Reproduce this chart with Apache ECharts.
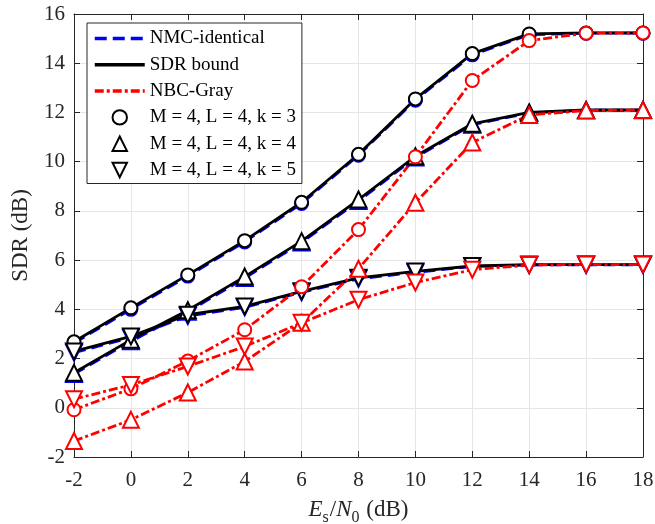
<!DOCTYPE html>
<html>
<head>
<meta charset="utf-8">
<script src="https://cdn.jsdelivr.net/npm/echarts@6/dist/echarts.min.js"></script>
<style>
  html, body { margin: 0; padding: 0; background: #fff; }
  #chart { width: 655px; height: 524px; }
</style>
</head>
<body>
<div id="chart"></div>
<script>
// Es/N0 (dB)
const snr = [-2, 0, 2, 4, 6, 8, 10, 12, 14, 16, 18]
const xTicks = [-2, 0, 2, 4, 6, 8, 10, 12, 14, 16, 18]
const yTicks = [-2, 0, 2, 4, 6, 8, 10, 12, 14, 16]

// k = 3
const nmcK3 = [2.63, 4.0, 5.35, 6.74, 8.3, 10.26, 12.5, 14.34, 15.16, 15.22, 15.22]
const boundK3 = [2.68, 4.06, 5.4, 6.79, 8.35, 10.3, 12.55, 14.39, 15.19, 15.23, 15.23]
const grayK3 = [-0.08, 0.77, 1.9, 3.17, 4.92, 7.24, 10.2, 13.3, 14.92, 15.22, 15.23]
// k = 4
const nmcK4 = [1.37, 2.7, 3.9, 5.27, 6.72, 8.4, 10.17, 11.5, 11.98, 12.09, 12.09]
const boundK4 = [1.42, 2.76, 3.96, 5.33, 6.77, 8.46, 10.22, 11.54, 12.0, 12.1, 12.1]
const grayK4 = [-1.35, -0.49, 0.62, 1.88, 3.45, 5.65, 8.33, 10.78, 11.9, 12.08, 12.1]
// k = 5
const nmcK5 = [2.24, 2.85, 3.73, 4.08, 4.69, 5.24, 5.5, 5.74, 5.8, 5.81, 5.81]
const boundK5 = [2.29, 2.9, 3.78, 4.12, 4.73, 5.28, 5.54, 5.76, 5.82, 5.82, 5.82]
const grayK5 = [0.35, 0.93, 1.68, 2.49, 3.45, 4.39, 5.09, 5.61, 5.8, 5.82, 5.82]

const legendNames = ['NMC-identical', 'SDR bound', 'NBC-Gray',
  'M = 4, L = 4, k = 3', 'M = 4, L = 4, k = 4', 'M = 4, L = 4, k = 5']

const FONT = 'Liberation Serif'
const styles = {
  nmc: { color: '#0000ff', type: [12, 6] },
  bound: { color: '#000000', type: 'solid' },
  gray: { color: '#ff0000', type: [9, 3, 3, 3] },
}
const marks = {
  k3: { symbol: 'emptyCircle', symbolSize: 13, symbolRotate: 0 },
  k4: { symbol: 'emptyTriangle', symbolSize: 16, symbolRotate: 0 },
  k5: { symbol: 'emptyTriangle', symbolSize: 16, symbolRotate: 180 },
}

function pairs(ys) {
  return snr.map((x, i) => [x, ys[i]])
}

function curve(ys, st, mk) {
  return {
    type: 'line',
    data: pairs(ys),
    symbol: mk.symbol,
    symbolSize: mk.symbolSize,
    symbolRotate: mk.symbolRotate,
    showAllSymbol: true,
    lineStyle: { color: st.color, width: 2.8, type: st.type },
    itemStyle: { color: st.color, borderColor: st.color, borderWidth: 2.8 },
    emphasis: { disabled: true },
    silent: true,
  }
}

const series = [
  curve(nmcK3, styles.nmc, marks.k3),
  curve(nmcK4, styles.nmc, marks.k4),
  curve(nmcK5, styles.nmc, marks.k5),
  curve(boundK3, styles.bound, marks.k3),
  curve(boundK4, styles.bound, marks.k4),
  curve(boundK5, styles.bound, marks.k5),
  curve(grayK3, styles.gray, marks.k3),
  curve(grayK4, styles.gray, marks.k4),
  curve(grayK5, styles.gray, marks.k5),
]

// legend-only entries
;[styles.nmc, styles.bound, styles.gray].forEach((st, i) => {
  series.push({
    name: legendNames[i],
    type: 'line',
    data: [],
    symbol: 'none',
    symbolSize: 0,
    lineStyle: { color: st.color, width: 3.5, type: st.type },
    itemStyle: { color: st.color, opacity: 0 },
  })
})
;[marks.k3, marks.k4, marks.k5].forEach((mk, i) => {
  series.push({
    name: legendNames[3 + i],
    type: 'line',
    data: [],
    symbol: mk.symbol,
    symbolSize: mk.symbolSize,
    symbolRotate: mk.symbolRotate,
    lineStyle: { color: '#000', width: 0, opacity: 0 },
    itemStyle: { color: '#000', borderColor: '#000', borderWidth: 3 },
  })
})

const legendData = legendNames.map((name, i) => i < 3
  ? { name: name, itemStyle: { opacity: 0 }, lineStyle: { width: 3.5 } }
  : { name: name, itemStyle: { borderWidth: 3 } })

const chart = echarts.init(document.getElementById('chart'))
const tickStyle = { show: true, inside: true, length: 6, lineStyle: { color: '#262626', width: 1 } }
chart.setOption({
  animation: false,
  backgroundColor: '#fff',
  textStyle: { fontFamily: FONT },
  grid: { left: 74, right: 12, top: 14, bottom: 67, outerBoundsMode: 'none', containLabel: false },
  legend: {
    data: legendData,
    orient: 'vertical',
    left: 87,
    top: 23,
    itemWidth: 50,
    itemHeight: 18,
    itemGap: 7.3,
    padding: [6, 6, 4, 6],
    backgroundColor: '#fff',
    borderColor: '#262626',
    borderWidth: 1,
    selectedMode: false,
    textStyle: { fontFamily: FONT, fontSize: 19, color: '#000', lineHeight: 18 },
  },
  xAxis: [{
    type: 'value',
    min: xTicks[0],
    max: xTicks[xTicks.length - 1],
    interval: 2,
    axisLine: { show: true, onZero: false, lineStyle: { color: '#262626', width: 1 } },
    axisTick: tickStyle,
    splitLine: { show: true, lineStyle: { color: '#e6e6e6', width: 1 } },
    axisLabel: { fontFamily: FONT, fontSize: 21, color: '#262626', margin: 13 },
    name: '{i|E}{sub|s}{n|/}{i|N}{sub|0}{n| (dB)}',
    nameLocation: 'middle',
    nameGap: 41,
    nameTextStyle: {
      rich: {
        i: { fontFamily: FONT, fontSize: 23, fontStyle: 'italic', color: '#262626', verticalAlign: 'top', lineHeight: 26 },
        n: { fontFamily: FONT, fontSize: 23, color: '#262626', verticalAlign: 'top', lineHeight: 26 },
        sub: { fontFamily: FONT, fontSize: 16, color: '#262626', verticalAlign: 'bottom', lineHeight: 26, padding: [0, 1, -2, 0] },
      },
    },
  }, {
    type: 'value',
    position: 'top',
    min: xTicks[0],
    max: xTicks[xTicks.length - 1],
    interval: 2,
    axisLine: { show: true, onZero: false, lineStyle: { color: '#262626', width: 1 } },
    axisTick: tickStyle,
    axisLabel: { show: false },
    splitLine: { show: false },
  }],
  yAxis: [{
    type: 'value',
    min: yTicks[0],
    max: yTicks[yTicks.length - 1],
    interval: 2,
    axisLine: { show: true, onZero: false, lineStyle: { color: '#262626', width: 1 } },
    axisTick: tickStyle,
    splitLine: { show: true, lineStyle: { color: '#e6e6e6', width: 1 } },
    axisLabel: { fontFamily: FONT, fontSize: 21, color: '#262626', margin: 9 },
    name: 'SDR (dB)',
    nameLocation: 'middle',
    nameGap: 42,
    nameTextStyle: { fontFamily: FONT, fontSize: 23, color: '#262626' },
  }, {
    type: 'value',
    position: 'right',
    min: yTicks[0],
    max: yTicks[yTicks.length - 1],
    interval: 2,
    axisLine: { show: true, onZero: false, lineStyle: { color: '#262626', width: 1 } },
    axisTick: tickStyle,
    axisLabel: { show: false },
    splitLine: { show: false },
  }],
  series: series,
})
</script>
</body>
</html>
